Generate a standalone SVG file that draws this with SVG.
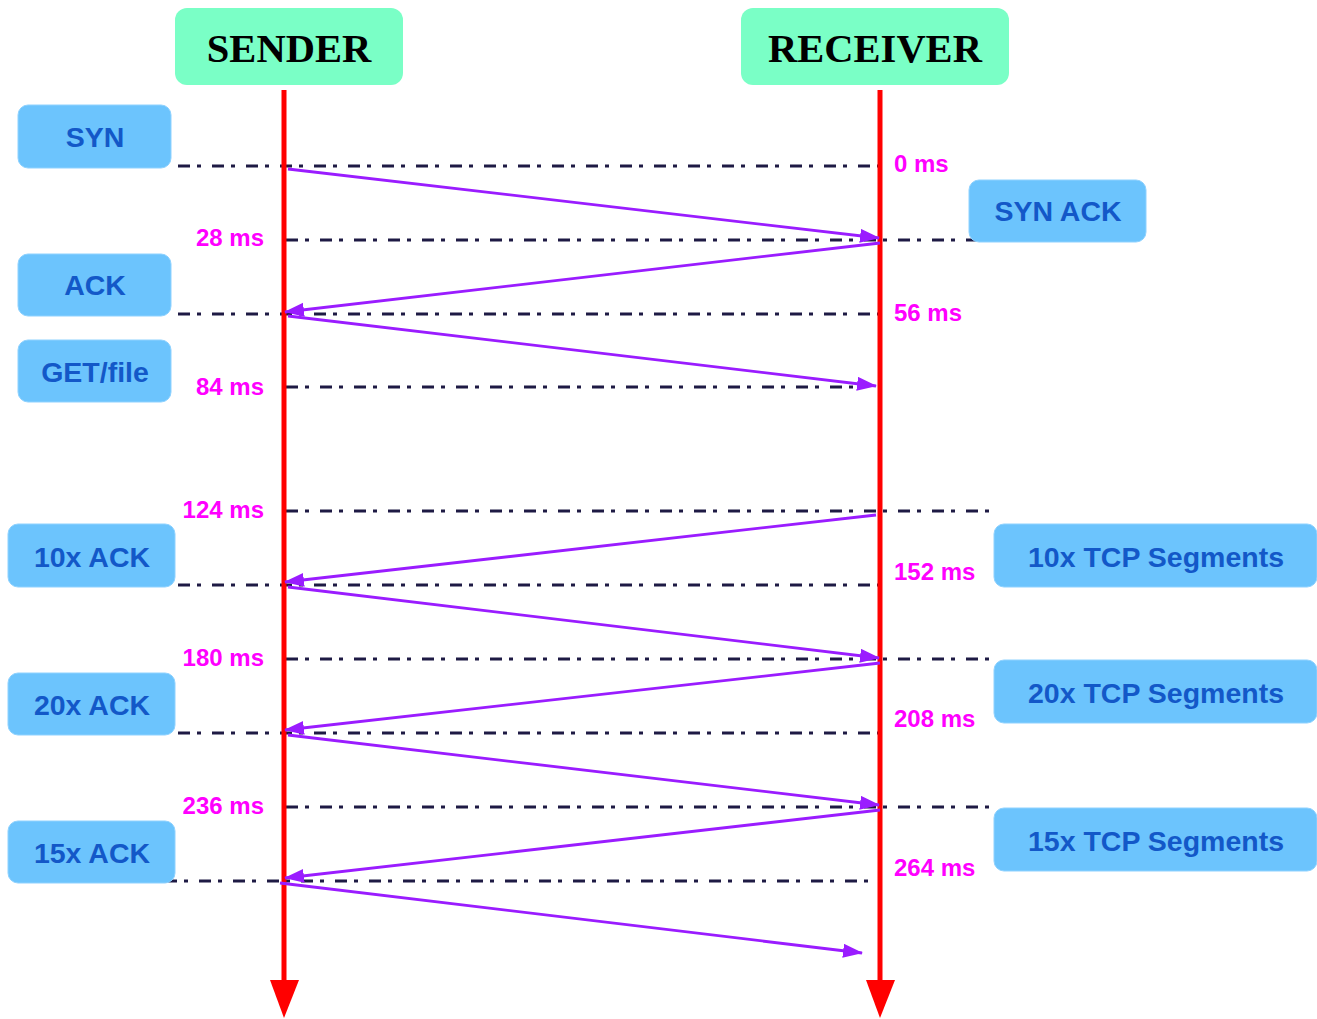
<svg xmlns="http://www.w3.org/2000/svg" width="1317" height="1019" viewBox="0 0 1317 1019">
<style>
.hdr{fill:#7affc6}
.hdrt{font-family:"Liberation Serif",serif;font-weight:bold;font-size:40.5px;fill:#000;text-anchor:middle}
.box{fill:#6cc4fd;stroke:#8fd2ff;stroke-width:1}
.bt{font-family:"Liberation Sans",Arial,sans-serif;font-weight:bold;font-size:28.5px;fill:#1358c8;text-anchor:middle}
.tm{font-family:"Liberation Sans",Arial,sans-serif;font-weight:bold;font-size:24px;fill:#ff00ff}
.tr{text-anchor:end}
.dd{stroke:#1e1a44;stroke-width:3;stroke-dasharray:12 7 4 11;fill:none}
.life{stroke:#ff0000;stroke-width:5}
.msg{stroke:#9a1cff;stroke-width:2.8;fill:none;marker-end:url(#ah)}
</style>
<defs>
<marker id="ah" markerWidth="22" markerHeight="16" refX="19" refY="7" orient="auto" markerUnits="userSpaceOnUse">
<path d="M0,0 L20,7 L0,14 Z" fill="#9a1cff"/>
</marker>
</defs>
<g id="sender">
<rect class="hdr" x="175" y="8" width="228" height="77" rx="12"/>
<text class="hdrt" x="289" y="62">SENDER</text>
</g>
<g id="receiver">
<rect class="hdr" x="741" y="8" width="268" height="77" rx="12"/>
<text class="hdrt" x="875" y="62">RECEIVER</text>
</g>
<g id="connectors">
<line class="dd" x1="178" y1="166" x2="880" y2="166"/>
<line class="dd" x1="286" y1="240" x2="977" y2="240"/>
<line class="dd" x1="178" y1="314" x2="880" y2="314"/>
<line class="dd" x1="286" y1="387" x2="860" y2="387"/>
<line class="dd" x1="286" y1="511" x2="990" y2="511"/>
<line class="dd" x1="178" y1="585" x2="880" y2="585"/>
<line class="dd" x1="286" y1="659" x2="990" y2="659"/>
<line class="dd" x1="178" y1="733" x2="880" y2="733"/>
<line class="dd" x1="286" y1="807" x2="990" y2="807"/>
<line class="dd" x1="165" y1="881" x2="870" y2="881"/>
<line class="life" x1="284" y1="90" x2="284" y2="985"/>
<polygon points="270,980 299,980 284,1018" fill="#ff0000"/>
<line class="life" x1="880" y1="90" x2="880" y2="985"/>
<polygon points="866,980 895,980 880,1018" fill="#ff0000"/>
<line class="msg" x1="288" y1="169" x2="879" y2="238"/>
<line class="msg" x1="880" y1="243" x2="285" y2="312"/>
<line class="msg" x1="288" y1="316" x2="876" y2="386"/>
<line class="msg" x1="876" y1="515" x2="285" y2="582"/>
<line class="msg" x1="288" y1="587" x2="879" y2="658"/>
<line class="msg" x1="880" y1="663" x2="285" y2="730"/>
<line class="msg" x1="288" y1="735" x2="879" y2="805"/>
<line class="msg" x1="880" y1="810" x2="285" y2="878"/>
<line class="msg" x1="280" y1="883" x2="862" y2="953"/>
</g>
<g id="syn"><rect class="box" x="18" y="105" width="153" height="63" rx="10"/><text class="bt" x="95" y="147">SYN</text></g>
<g id="ack"><rect class="box" x="18" y="254" width="153" height="62" rx="10"/><text class="bt" x="95" y="295">ACK</text></g>
<g id="get"><rect class="box" x="18" y="340" width="153" height="62" rx="10"/><text class="bt" x="95" y="382">GET/file</text></g>
<g id="synack"><rect class="box" x="969" y="180" width="177" height="62" rx="10"/><text class="bt" x="1058" y="221">SYN ACK</text></g>
<g id="ack10"><rect class="box" x="8" y="524" width="167" height="63" rx="10"/><text class="bt" x="92" y="567">10x ACK</text></g>
<g id="ack20"><rect class="box" x="8" y="673" width="167" height="62" rx="10"/><text class="bt" x="92" y="715">20x ACK</text></g>
<g id="ack15"><rect class="box" x="8" y="821" width="167" height="62" rx="10"/><text class="bt" x="92" y="863">15x ACK</text></g>
<g id="tcp10"><rect class="box" x="994" y="524" width="323" height="63" rx="10"/><text class="bt" x="1156" y="567">10x TCP Segments</text></g>
<g id="tcp20"><rect class="box" x="994" y="660" width="323" height="63" rx="10"/><text class="bt" x="1156" y="703">20x TCP Segments</text></g>
<g id="tcp15"><rect class="box" x="994" y="808" width="323" height="63" rx="10"/><text class="bt" x="1156" y="851">15x TCP Segments</text></g>
<g id="times">
<text class="tm" x="894" y="172">0 ms</text>
<text class="tm tr" x="264" y="246">28 ms</text>
<text class="tm" x="894" y="321">56 ms</text>
<text class="tm tr" x="264" y="395">84 ms</text>
<text class="tm tr" x="264" y="518">124 ms</text>
<text class="tm" x="894" y="580">152 ms</text>
<text class="tm tr" x="264" y="666">180 ms</text>
<text class="tm" x="894" y="727">208 ms</text>
<text class="tm tr" x="264" y="814">236 ms</text>
<text class="tm" x="894" y="876">264 ms</text>
</g>
</svg>
